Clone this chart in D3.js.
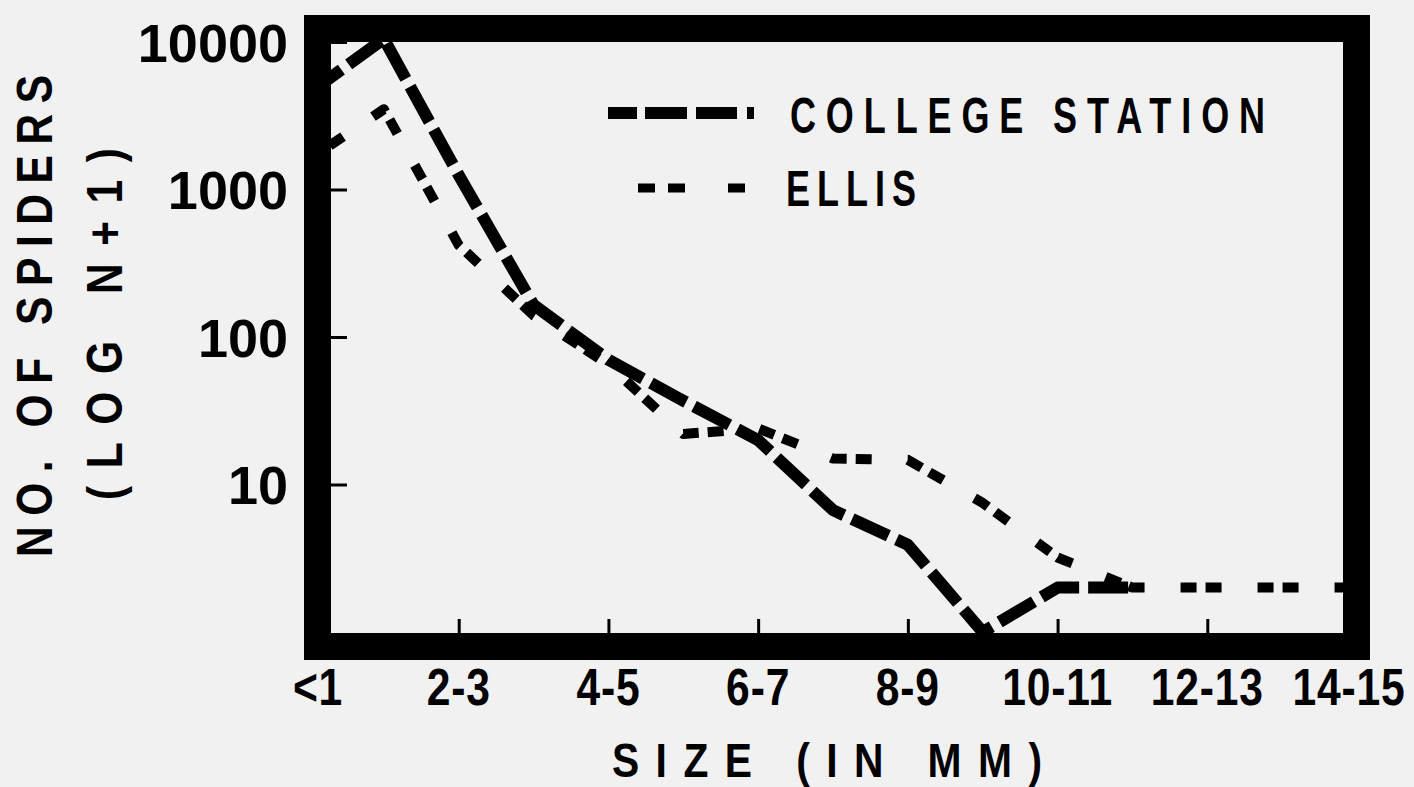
<!DOCTYPE html>
<html>
<head>
<meta charset="utf-8">
<script src="https://cdn.jsdelivr.net/npm/d3@7"></script>
<style>
  html, body { margin: 0; padding: 0; background: #f1f1f1; }
  svg { display: block; }
  text { font-family: "Liberation Sans", Arial, sans-serif; font-weight: 700; fill: #000; }
</style>
</head>
<body>
<svg id="chart" width="1414" height="787"></svg>
<script>
// ---- data (values are N+1, plotted on a log axis) ----
const categories = ["<1","1-2","2-3","3-4","4-5","5-6","6-7","7-8","8-9","9-10","10-11","11-12","12-13","13-14","14-15"];
const collegeStation = [4500, 10500, 1250, 165, 70, 37, 20, 6.7, 3.9, 1, 2, 2, null, null, null];
const ellis = [1600, 3500, 420, 140, 65, 22, 24, 15, 14.7, 7.5, 3.2, 2, 2, 2, 2];
const xTickLabels = ["<1","2-3","4-5","6-7","8-9","10-11","12-13","14-15"];
const xTickMarks = ["2-3","4-5","6-7","8-9","10-11","12-13"];
const yTickValues = [10, 100, 1000, 10000];
const seriesNames = ["COLLEGE STATION", "ELLIS"];

const svg = d3.select("#chart");
const inner = {left: 331, right: 1343, top: 42, bottom: 633};
const frameW = 27;

const x = d3.scalePoint().domain(categories).range([309, 1357]);
const y = d3.scaleLog().domain([1, 10000]).range([632, 42]);

const line = d3.line()
  .defined(d => d.v != null)
  .x(d => x(d.c))
  .y(d => y(d.v));

const csData = categories.map((c, i) => ({c, v: collegeStation[i]}));
const elData = categories.map((c, i) => ({c, v: ellis[i]}));

svg.append("path").datum(elData).attr("d", line)
  .attr("fill", "none").attr("stroke", "#000").attr("stroke-width", 10)
  .attr("stroke-dasharray", "16,9,16,36").attr("stroke-linejoin", "round");

svg.append("path").datum(csData).attr("d", line)
  .attr("fill", "none").attr("stroke", "#000").attr("stroke-width", 12)
  .attr("stroke-dasharray", "40,9").attr("stroke-linejoin", "round");

// frame
svg.append("rect")
  .attr("x", inner.left - frameW / 2).attr("y", inner.top - frameW / 2)
  .attr("width", inner.right - inner.left + frameW)
  .attr("height", inner.bottom - inner.top + frameW)
  .attr("fill", "none").attr("stroke", "#000").attr("stroke-width", frameW);

// y axis ticks + labels
const yAxis = d3.axisLeft(y).tickValues(yTickValues).tickSize(-16).tickPadding(43)
  .tickFormat(d3.format("d"));
const gy = svg.append("g").attr("transform", `translate(${inner.left},0)`).call(yAxis);
gy.select(".domain").remove();
gy.selectAll(".tick line").attr("stroke", "#000").attr("stroke-width", 3);
gy.selectAll(".tick text").attr("font-size", 54).attr("dy", "0.36em")
  .style("font-family", "'Liberation Sans', Arial, sans-serif").style("font-weight", 700).attr("fill", "#000");

// x axis tick marks
const xAxis = d3.axisBottom(x).tickValues(xTickMarks).tickSize(-14).tickFormat("");
const gx = svg.append("g").attr("transform", `translate(0,${inner.bottom})`).call(xAxis);
gx.select(".domain").remove();
gx.selectAll(".tick line").attr("stroke", "#000").attr("stroke-width", 3);

// condensed text helper: glyphs squeezed horizontally by sx, spread to a target width
function ctext(str, tx, ty, size, sx, width, rot, anchor) {
  const t = svg.append("text")
    .attr("transform", `translate(${tx},${ty})${rot ? " rotate(-90)" : ""} scale(${sx},1)`)
    .attr("font-size", size)
    .attr("text-anchor", anchor || "start")
    .text(str);
  if (width) t.attr("textLength", width / sx).attr("lengthAdjust", "spacing");
  return t;
}

// x tick labels
const lastLabel = xTickLabels[xTickLabels.length - 1];
xTickLabels.forEach(d => {
  const dx = d === "<1" ? 9 : (d === lastLabel ? -8 : 0);
  ctext(d, x(d) + dx, 705, 52, 0.82, null, false, "middle").attr("letter-spacing", 1);
});

// axis titles
ctext("NO. OF SPIDERS", 52, 557, 50, 0.85, 482, true);
ctext("(LOG N+1)", 122, 500, 50, 0.85, 352, true);
ctext("SIZE (IN MM)", 612, 777, 48, 0.85, 430, false);

// legend
svg.append("path").attr("d", d3.line()([[608, 113], [756, 113]]))
  .attr("stroke", "#000").attr("stroke-width", 12)
  .attr("stroke-dasharray", "29,8,42,9,41,10,7,200").attr("fill", "none");
svg.append("path").attr("d", d3.line()([[638, 188], [746, 188]]))
  .attr("stroke", "#000").attr("stroke-width", 9)
  .attr("stroke-dasharray", "17,13,17,43,17,200").attr("fill", "none");
ctext(seriesNames[0], 790, 133, 50, 0.72, 475, false);
ctext(seriesNames[1], 786, 206, 50, 0.72, 130, false);
</script>
</body>
</html>
